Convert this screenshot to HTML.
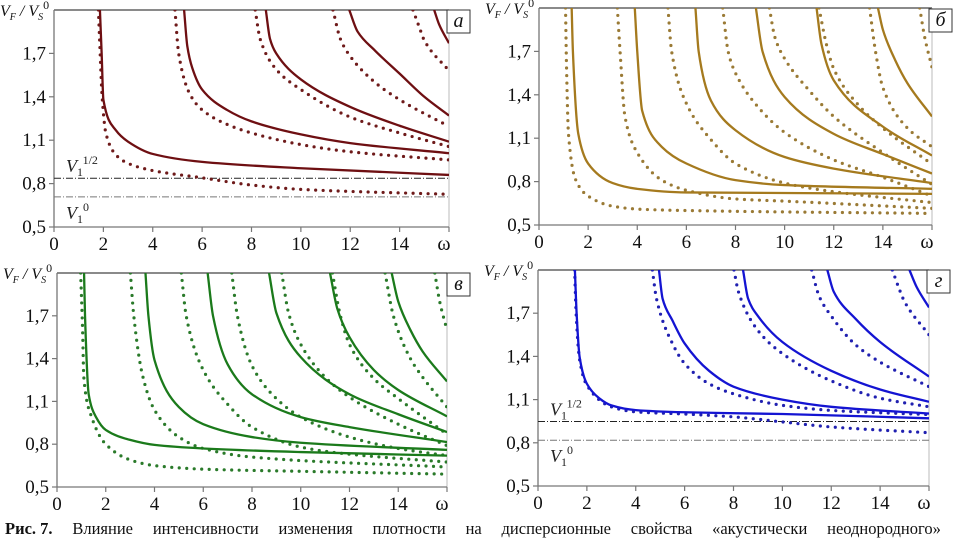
<!DOCTYPE html>
<html><head><meta charset="utf-8">
<style>
html,body{margin:0;padding:0;background:#fff;}
body{width:954px;height:541px;overflow:hidden;position:relative;font-family:"Liberation Serif","DejaVu Serif",serif;}
svg{position:absolute;left:0;top:0;font-family:"Liberation Serif","DejaVu Serif",serif;}
svg text{font-family:"Liberation Serif","DejaVu Serif",serif;}
#caption{position:absolute;left:5px;top:519px;width:936px;display:flex;justify-content:space-between;font-size:16.5px;color:#111;white-space:nowrap;font-family:"Liberation Serif","DejaVu Serif",serif;}
</style></head>
<body>
<svg id="fig" width="954" height="541"></svg>
<div id="caption"><b>Рис. 7.</b><span>Влияние</span><span>интенсивности</span><span>изменения</span><span>плотности</span><span>на</span><span>дисперсионные</span><span>свойства</span><span>«акустически</span><span>неоднородного»</span></div>
<script>
// ---- data (omega, V_F/V_S^0) ----
const xTicks = [0,2,4,6,8,10,12,14];
const yTicks = [0.5,0.8,1.1,1.4,1.7];
const yTickLabels = ["0,5","0,8","1,1","1,4","1,7"];

const aSolid = [
 [[1.86,2.0],[1.93,1.7],[2.0,1.38],[2.5,1.17],[3,1.09],[4,1.005],[6,0.95],[10,0.906],[16,0.86]],
 [[5.27,2.0],[5.4,1.75],[5.6,1.6],[6,1.45],[7,1.31],[8,1.23],[10,1.14],[12,1.08],[16,1.01]],
 [[8.58,2.0],[8.75,1.8],[9,1.7],[10,1.52],[12,1.33],[14,1.2],[16,1.09]],
 [[11.96,2.0],[12.3,1.85],[13,1.72],[14,1.56],[15,1.4],[16,1.27]],
 [[15.4,2.0],[15.6,1.9],[16,1.77]]
];
const aDotted = [
 [[1.8,2.0],[1.87,1.7],[1.95,1.4],[2.1,1.15],[2.5,1.0],[3,0.94],[4,0.89],[6,0.84],[8,0.79],[10,0.76],[16,0.726]],
 [[4.9,2.0],[5.05,1.7],[5.5,1.42],[6,1.31],[7,1.21],[8,1.15],[10,1.07],[12,1.02],[16,0.964]],
 [[8.15,2.0],[8.35,1.8],[9,1.59],[10,1.45],[12,1.26],[14,1.15],[16,1.056]],
 [[11.3,2.0],[11.6,1.8],[12,1.68],[13,1.5],[14,1.38],[16,1.195]],
 [[14.54,2.0],[14.8,1.88],[15,1.79],[16,1.58]]
];
const aRefs = [0.837,0.708];

const bSolid = [
 [[1.33,2.0],[1.38,1.7],[1.6,1.13],[2,0.925],[3,0.79],[4,0.75],[6,0.725],[16,0.715]],
 [[3.9,2.0],[4.0,1.7],[4.2,1.29],[5,1.04],[6,0.925],[8,0.81],[10,0.776],[16,0.75]],
 [[6.37,2.0],[6.5,1.7],[7,1.36],[8,1.155],[10,0.97],[12,0.89],[16,0.79]],
 [[8.83,2.0],[9.1,1.7],[10,1.385],[12,1.13],[14,0.99],[16,0.856]],
 [[11.3,2.0],[11.5,1.75],[12,1.5],[14,1.18],[16,0.98]],
 [[13.8,2.0],[14,1.85],[14.5,1.64],[15,1.48],[16,1.25]]
];
const bDotted = [
 [[1.08,2.0],[1.12,1.6],[1.2,1.13],[1.5,0.81],[2,0.70],[3,0.63],[4,0.61],[6,0.60],[16,0.58]],
 [[3.19,2.0],[3.3,1.7],[3.5,1.25],[4,1.0],[5,0.81],[6,0.74],[8,0.68],[10,0.665],[16,0.615]],
 [[5.25,2.0],[5.4,1.7],[6,1.34],[7,1.09],[8,0.925],[10,0.79],[12,0.73],[16,0.655]],
 [[7.48,2.0],[7.7,1.7],[8,1.55],[9,1.3],[10,1.14],[12,0.95],[14,0.83],[16,0.70]],
 [[9.38,2.0],[9.6,1.8],[10,1.65],[11,1.43],[12,1.25],[14,1.0],[16,0.78]],
 [[11.4,2.0],[11.7,1.75],[12,1.58],[13,1.33],[14,1.17],[16,0.92]],
 [[13.46,2.0],[13.7,1.7],[14,1.45],[15,1.17],[16,1.04]],
 [[15.5,2.0],[15.7,1.8],[16,1.59]]
];

const cSolid = [
 [[1.11,2.0],[1.15,1.7],[1.3,1.15],[1.6,0.99],[2,0.9],[3,0.83],[4,0.795],[6,0.77],[10,0.745],[16,0.72]],
 [[3.63,2.0],[3.75,1.7],[4,1.39],[5,1.06],[6,0.94],[8,0.85],[10,0.81],[16,0.76]],
 [[6.18,2.0],[6.4,1.7],[7,1.36],[8,1.15],[10,0.99],[12,0.92],[16,0.815]],
 [[8.7,2.0],[9,1.72],[10,1.41],[12,1.15],[14,1.01],[16,0.885]],
 [[11.2,2.0],[11.5,1.75],[12,1.55],[13,1.32],[14,1.18],[16,0.995]],
 [[13.73,2.0],[14,1.8],[14.5,1.6],[15,1.45],[16,1.24]]
];
const cDotted = [
 [[0.97,2.0],[1.05,1.6],[1.1,1.27],[1.4,1.0],[2,0.8],[3,0.69],[4,0.65],[6,0.625],[10,0.61],[16,0.59]],
 [[3.01,2.0],[3.15,1.7],[3.5,1.29],[4,1.04],[5,0.85],[6,0.77],[8,0.71],[16,0.64]],
 [[5.1,2.0],[5.3,1.7],[6,1.32],[7,1.08],[8,0.92],[10,0.78],[12,0.73],[16,0.675]],
 [[7.17,2.0],[7.4,1.7],[8,1.35],[9,1.12],[10,0.99],[12,0.85],[14,0.77],[16,0.72]],
 [[9.22,2.0],[9.5,1.72],[10,1.5],[11,1.27],[12,1.13],[14,0.94],[16,0.79]],
 [[11.3,2.0],[11.6,1.72],[12,1.5],[13,1.26],[14,1.12],[16,0.87]],
 [[13.46,2.0],[13.8,1.7],[14.5,1.4],[15,1.27],[16,1.06]],
 [[15.5,2.0],[15.7,1.8],[16,1.6]]
];

const dSolid = [
 [[1.51,2.0],[1.58,1.7],[1.7,1.4],[2,1.21],[2.5,1.11],[3,1.06],[4,1.027],[6,1.012],[10,1.0],[16,0.97]],
 [[4.95,2.0],[5.1,1.8],[5.5,1.65],[6,1.49],[7,1.3],[8,1.19],[10,1.1],[12,1.05],[16,1.003]],
 [[8.39,2.0],[8.6,1.8],[9,1.68],[10,1.5],[12,1.3],[14,1.17],[16,1.085]],
 [[11.84,2.0],[12.1,1.85],[13,1.66],[14,1.5],[16,1.26]],
 [[15.2,2.0],[15.5,1.88],[16,1.74]]
];
const dDotted = [
 [[1.5,2.0],[1.56,1.7],[1.7,1.38],[2,1.2],[3,1.05],[4,1.015],[6,1.0],[8,0.98],[10,0.945],[12,0.91],[16,0.87]],
 [[4.68,2.0],[4.85,1.8],[5.5,1.49],[6,1.35],[7,1.21],[8,1.14],[10,1.06],[12,1.025],[16,0.996]],
 [[8.02,2.0],[8.2,1.85],[9,1.58],[10,1.42],[12,1.23],[14,1.11],[16,1.05]],
 [[11.2,2.0],[11.5,1.82],[12,1.68],[13,1.48],[14,1.36],[16,1.19]],
 [[14.5,2.0],[14.8,1.86],[15,1.78],[16,1.55]]
];
const dRefs = [0.948,0.818];

// ---- layout ----
const NS = "http://www.w3.org/2000/svg";
const svg = document.getElementById('fig');
function mk(tag, attrs, parent){const e=document.createElementNS(NS,tag);for(const k in attrs)e.setAttribute(k,attrs[k]);(parent||svg).appendChild(e);return e;}

function monotonePath(pts){
  const n=pts.length; if(n<2) return "";
  const dx=[],dy=[],m=[];
  for(let i=0;i<n-1;i++){dx.push(pts[i+1][0]-pts[i][0]);dy.push(pts[i+1][1]-pts[i][1]);m.push(dy[i]/dx[i]);}
  const t=[m[0]];
  for(let i=1;i<n-1;i++){ if(m[i-1]*m[i]<=0) t.push(0); else { const w1=2*dx[i]+dx[i-1], w2=dx[i]+2*dx[i-1]; t.push((w1+w2)/(w1/m[i-1]+w2/m[i])); } }
  t.push(m[n-2]);
  let d="M"+pts[0][0].toFixed(2)+","+pts[0][1].toFixed(2);
  for(let i=0;i<n-1;i++){const h=dx[i]/3;
    d+=" C"+(pts[i][0]+h).toFixed(2)+","+(pts[i][1]+h*t[i]).toFixed(2)+" "+(pts[i+1][0]-h).toFixed(2)+","+(pts[i+1][1]-h*t[i+1]).toFixed(2)+" "+pts[i+1][0].toFixed(2)+","+pts[i+1][1].toFixed(2);}
  return d;
}

const FF='"Liberation Serif", "DejaVu Serif", serif';
function panel(cfg){
  const g=mk('g',{'font-family':FF});
  
  
  const xs=v=>cfg.x0+(cfg.x1-cfg.x0)*v/16;
  const ys=v=>cfg.yb-(cfg.yb-cfg.yt)*(v-0.5)/1.5;
  const cid='clip-'+cfg.key;
  const cp=mk('clipPath',{id:cid},g);
  mk('rect',{x:cfg.x0,y:cfg.yt,width:cfg.x1-cfg.x0,height:cfg.yb-cfg.yt},cp);
  const top=mk('line',{x1:cfg.x0,y1:cfg.yt,x2:cfg.x1,y2:cfg.yt,stroke:'#444','stroke-width':1.2},g);
  
  
  const rt=mk('line',{x1:cfg.x1,y1:cfg.yt,x2:cfg.x1,y2:cfg.yb,stroke:'#bbb','stroke-width':1},g);
  
  
  const xa=mk('line',{x1:cfg.x0,y1:cfg.yb,x2:cfg.x1,y2:cfg.yb,stroke:'#777','stroke-width':1.3},g);
  
  
  const ya=mk('line',{x1:cfg.x0,y1:cfg.yt,x2:cfg.x0,y2:cfg.yb,stroke:'#777','stroke-width':1.3},g);
  
  
  xTicks.concat([16]).forEach((v)=>{
    const tk=mk('line',{x1:xs(v),y1:cfg.yb,x2:xs(v),y2:cfg.yb+5,stroke:'#777','stroke-width':1.2},g);
    
    
  });
  xTicks.forEach(v=>{
    const t=mk('text',{x:xs(v),y:cfg.yb+23,'text-anchor':'middle','font-size':19,fill:'#111','font-family':FF},g);
    t.textContent=String(v);
    
    
  });
  const om=mk('text',{x:xs(16)-5,y:cfg.yb+23,'text-anchor':'middle','font-size':20,fill:'#111','font-family':FF},g);
  om.textContent='ω';
  
  
  yTicks.forEach((v,i)=>{
    const tk=mk('line',{x1:cfg.x0-5,y1:ys(v),x2:cfg.x0,y2:ys(v),stroke:'#777','stroke-width':1.2},g);
    
    
    const t=mk('text',{x:cfg.x0-8,y:ys(v)+6,'text-anchor':'end','font-size':19,fill:'#111','font-family':FF},g);
    t.textContent=yTickLabels[i];
    
    
  });
  const yt=mk('text',{x:cfg.x0-54,y:cfg.yt+6,'font-size':16,'font-style':'italic',fill:'#111','font-family':FF},g);
  yt.innerHTML='V<tspan font-size="10" dy="4">F</tspan><tspan dy="-4"> / V</tspan><tspan font-size="10" dy="4">S</tspan><tspan font-size="12" dy="-11" font-style="normal">0</tspan>';
  
  
  (cfg.refs||[]).forEach((v,i)=>{
    const l=mk('line',{x1:cfg.x0,y1:ys(v),x2:cfg.x1,y2:ys(v),stroke:i===0?'#222':'#777','stroke-width':1,'stroke-dasharray':'7 2 1 2'},g);
    
    
  });
  if(cfg.refs){
    const l1=mk('text',{x:cfg.x0+12,y:ys(cfg.refs[0])-6,'font-size':18,'font-style':'italic',fill:'#222','font-family':FF},g);
    l1.innerHTML='V<tspan font-size="12" dy="4" font-style="normal">1</tspan><tspan font-size="12" dy="-12" font-style="normal">1/2</tspan>';
    
    
    const l2=mk('text',{x:cfg.x0+12,y:ys(cfg.refs[1])+22,'font-size':18,'font-style':'italic',fill:'#222','font-family':FF},g);
    l2.innerHTML='V<tspan font-size="12" dy="4" font-style="normal">1</tspan><tspan font-size="12" dy="-12" font-style="normal">0</tspan>';
    
    
  }
  const cg=mk('g',{'clip-path':'url(#'+cid+')'},g);
  cfg.dotted.forEach((c,i)=>{
    const p=mk('path',{d:monotonePath(c.map(q=>[xs(q[0]),ys(q[1])])),fill:'none',stroke:cfg.dcolor,'stroke-width':3.2,'stroke-linecap':'round','stroke-dasharray':'0 7.5'},cg);
    
    
  });
  cfg.solid.forEach((c,i)=>{
    const p=mk('path',{d:monotonePath(c.map(q=>[xs(q[0]),ys(q[1])])),fill:'none',stroke:cfg.color,'stroke-width':2.3},cg);
    
    
  });
  const bx=mk('rect',{x:cfg.bx,y:cfg.by,width:23,height:23,fill:'#fff',stroke:'#333','stroke-width':1},g);
  
  
  const bt=mk('text',{x:cfg.bx+11.5,y:cfg.by+17,'text-anchor':'middle','font-size':20,'font-style':'italic',fill:'#111','font-family':FF},g);
  bt.textContent=cfg.letter;
  
  
}

panel({key:'a',name:'panel-a',x0:54,x1:449,yb:227,yt:10,color:'#6e0f12',dcolor:'#6e1a1a',solid:aSolid,dotted:aDotted,refs:aRefs,bx:447,by:10,letter:'а'});
panel({key:'b',name:'panel-b',x0:539,x1:932,yb:225,yt:8,color:'#a57a1e',dcolor:'#9a7a35',solid:bSolid,dotted:bDotted,bx:929,by:9,letter:'б'});
panel({key:'c',name:'panel-c',x0:57,x1:447,yb:487,yt:273,color:'#1b7a1b',dcolor:'#2a7a2a',solid:cSolid,dotted:cDotted,bx:447,by:273,letter:'в'});
panel({key:'d',name:'panel-d',x0:538,x1:929,yb:486,yt:270,color:'#1414d2',dcolor:'#2020b0',solid:dSolid,dotted:dDotted,refs:dRefs,bx:927,by:270,letter:'г'});
</script>
</body></html>
